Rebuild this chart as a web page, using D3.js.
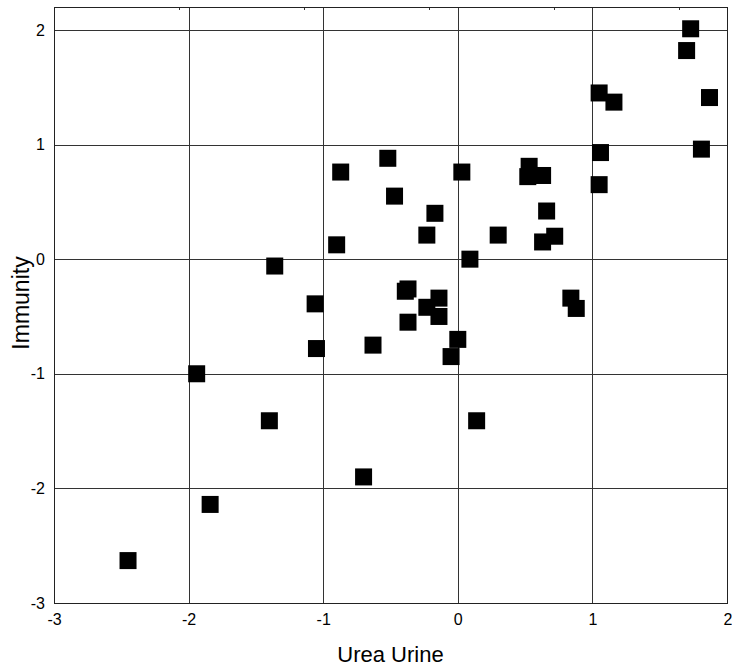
<!DOCTYPE html>
<html>
<head>
<meta charset="utf-8">
<script src="https://cdn.jsdelivr.net/npm/d3@7"></script>
<style>
  body { margin: 0; background: #fff; }
  #chart { width: 732px; height: 670px; }
  .tick text { font-family: "Liberation Sans", Arial, sans-serif; font-size: 16px; fill: #000; }
  .axisLabel { font-family: "Liberation Sans", Arial, sans-serif; fill: #000; }
</style>
</head>
<body>
<div id="chart"></div>
<script>
// data
const ureaUrine = [1.73, 1.70, 1.87, 1.05, 1.16, 1.81, 1.06, 1.05, 0.53, 0.52, 0.63, 0.66,
  0.72, 0.63, 0.30, 0.09, 0.03, -0.52, -0.87, -0.47, -0.17, -0.23, -0.90, -1.36, -1.06,
  -1.05, -0.63, -0.37, -0.39, -0.14, -0.23, -0.14, -0.37, 0.00, -0.05, 0.84, 0.88, -1.94,
  -1.40, -1.84, -0.70, 0.14, -2.45];
const immunity = [2.01, 1.82, 1.41, 1.45, 1.37, 0.96, 0.93, 0.65, 0.81, 0.72, 0.73, 0.42,
  0.20, 0.15, 0.21, 0.00, 0.76, 0.88, 0.76, 0.55, 0.40, 0.21, 0.125, -0.06, -0.39,
  -0.78, -0.75, -0.26, -0.28, -0.34, -0.42, -0.50, -0.55, -0.70, -0.85, -0.34, -0.43, -1.00,
  -1.41, -2.14, -1.90, -1.41, -2.63];
const xTicks = [-3, -2, -1, 0, 1, 2];
const yTicks = [-3, -2, -1, 0, 1, 2];

const width = 732;
const height = 670;
const margin = { top: 7, left: 54, right: 5, bottom: 67 };

const svg = d3.select("#chart")
    .append("svg")
    .attr("width", width)
    .attr("height", height);

const xScale = d3.scaleLinear()
    .domain([-3, 2])
    .range([margin.left, width - margin.right]);

const yScale = d3.scaleLinear()
    .domain([-3, 2.2])
    .range([height - margin.bottom, margin.top]);

// plain hyphen labels like "-3"
const fmt = d => String(d);

// grid lines
svg.append("g")
    .attr("transform", `translate(0,${height - margin.bottom})`)
    .call(d3.axisBottom(xScale).tickValues(xTicks)
        .tickSize(-(height - margin.top - margin.bottom)).tickFormat(""))
    .call(g => g.select(".domain").remove())
    .selectAll("line").attr("stroke", "#333").attr("shape-rendering", "crispEdges");

svg.append("g")
    .attr("transform", `translate(${margin.left},0)`)
    .call(d3.axisLeft(yScale).tickValues(yTicks)
        .tickSize(-(width - margin.left - margin.right)).tickFormat(""))
    .call(g => g.select(".domain").remove())
    .selectAll("line").attr("stroke", "#333").attr("shape-rendering", "crispEdges");

// small ticks hanging from the top edge
const topScale = d3.scaleLinear()
    .domain([0, (width - margin.left - margin.right) / 125])
    .range([margin.left, width - margin.right]);

svg.append("g")
    .attr("transform", `translate(0,${margin.top})`)
    .call(d3.axisBottom(topScale).tickValues([1, 2, 3, 4, 5]).tickSize(3).tickFormat(""))
    .call(g => g.select(".domain").remove())
    .selectAll("line").attr("stroke", "#333").attr("shape-rendering", "crispEdges");

// frame
svg.append("rect")
    .attr("x", margin.left)
    .attr("y", margin.top)
    .attr("width", width - margin.left - margin.right)
    .attr("height", height - margin.top - margin.bottom)
    .attr("fill", "none")
    .attr("stroke", "#222")
    .attr("shape-rendering", "crispEdges");

// tick labels
const xLabels = svg.append("g")
    .attr("transform", `translate(0,${height - margin.bottom})`)
    .call(d3.axisBottom(xScale).tickValues(xTicks).tickFormat(fmt).tickSize(0).tickPadding(11))
    .call(g => g.select(".domain").remove());

// the last label sits on the window edge, keep it inside
xLabels.selectAll(".tick text")
    .filter(d => d === 2)
    .attr("text-anchor", "end")
    .attr("dx", "0.3em");

svg.append("g")
    .attr("transform", `translate(${margin.left},0)`)
    .call(d3.axisLeft(yScale).tickValues(yTicks).tickFormat(fmt).tickSize(0).tickPadding(9))
    .call(g => g.select(".domain").remove());

// points
const points = d3.zip(ureaUrine, immunity);
const size = 17;

svg.selectAll("rect.pt")
    .data(points)
    .enter()
    .append("rect")
        .attr("class", "pt")
        .attr("x", d => xScale(d[0]) - size / 2)
        .attr("y", d => yScale(d[1]) - size / 2)
        .attr("width", size)
        .attr("height", size)
        .attr("fill", "#000");

// axis labels
svg.append("text")
    .attr("class", "axisLabel")
    .attr("text-anchor", "middle")
    .attr("font-size", 22)
    .attr("x", (margin.left + width - margin.right) / 2)
    .attr("y", 662)
    .text("Urea Urine");

svg.append("text")
    .attr("class", "axisLabel")
    .attr("text-anchor", "middle")
    .attr("font-size", 23)
    .attr("transform", "rotate(-90)")
    .attr("x", -303)
    .attr("y", 29)
    .text("Immunity");
</script>
</body>
</html>
